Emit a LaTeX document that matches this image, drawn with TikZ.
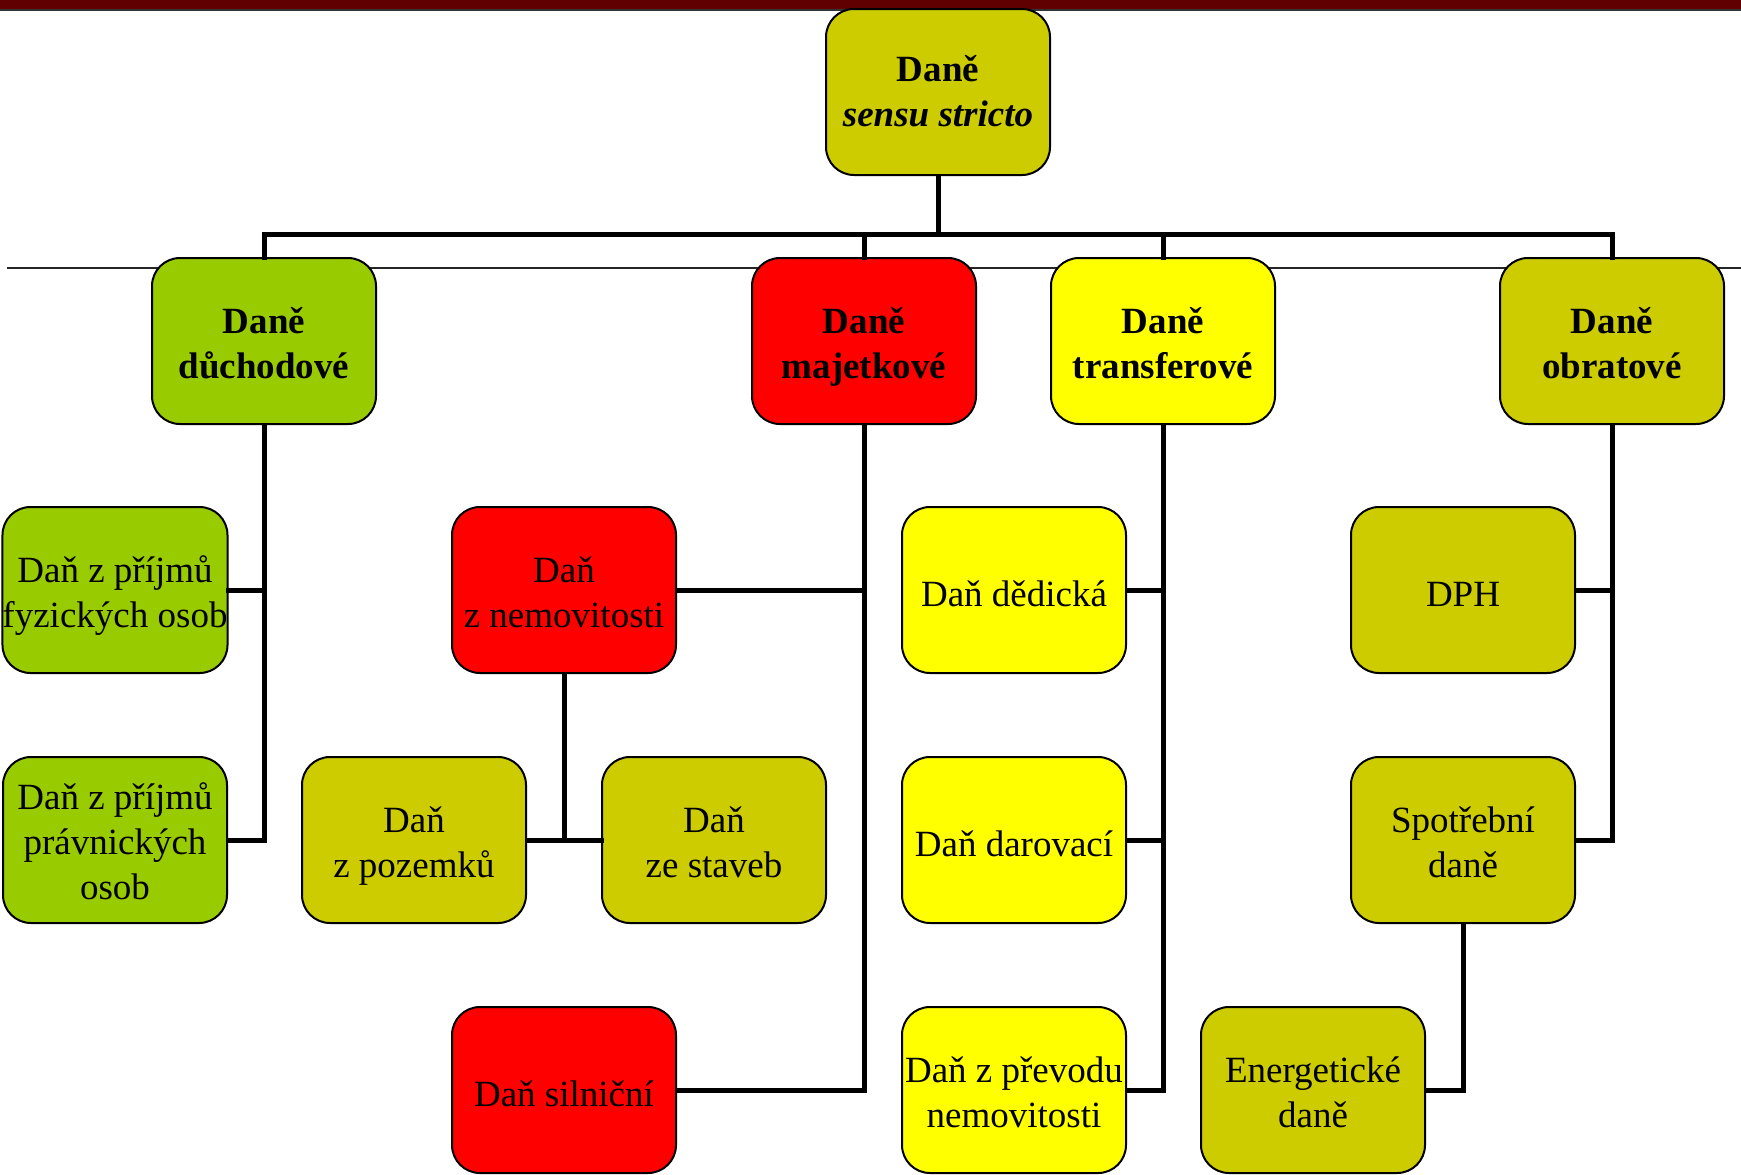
\documentclass[tikz,border=0pt]{standalone}
\usepackage{fontspec}
\setmainfont{Liberation Serif}
\usepackage{tikz}

\definecolor{dzelena}{HTML}{99CC00}
\definecolor{dcervena}{HTML}{FF0000}
\definecolor{dzluta}{HTML}{FFFF00}
\definecolor{dolivova}{HTML}{CCCC00}
\definecolor{dbordo}{HTML}{600000}

\begin{document}
\begin{tikzpicture}[x=0.5pt,y=-0.5pt,
    box/.style={draw=black,line width=1pt,rounded corners=14pt,minimum width=112pt,
      minimum height=83pt,inner sep=0pt,align=center,
      font=\fontsize{18.5}{22.5}\selectfont,text height=19.25pt,text depth=3.25pt},
    dva/.style={text height=40.65pt},
    tri/.style={text height=63.15pt},
    conn/.style={line width=2.5pt,line cap=rect}]
    \useasboundingbox (0,0) rectangle (1741,1174);
    \fill[dbordo] (0,0) rectangle (1741,9);
    \draw[black!80,line width=1pt] (0,10) -- (1741,10);
    \coordinate (lineL) at (7,268);
    \coordinate (lineR) at (1741,268);
    \draw[black!85,line width=1pt] (lineL) -- (lineR);
    \coordinate (bus) at (938,234);

    \node[box,text height=38.15pt,fill=dolivova] (root) at (938,92) {\bfseries Daně\\\bfseries\itshape sensu stricto};
    \node[box,dva,fill=dzelena]  (duch)  at (264,341)  {\bfseries Daně\\\bfseries důchodové};
    \node[box,dva,fill=dcervena] (maj)   at (864,341)  {\bfseries Daně\\\bfseries majetkové};
    \node[box,dva,fill=dzluta]   (trans) at (1163,341) {\bfseries Daně\\\bfseries transferové};
    \node[box,dva,fill=dolivova] (obr)   at (1612,341) {\bfseries Daně\\\bfseries obratové};

    \node[box,dva,fill=dzelena] (fyz)  at (115,590) {Daň z příjmů\\fyzických osob};
    \node[box,tri,fill=dzelena] (prav) at (115,840) {Daň z příjmů\\právnických\\osob};

    \node[box,dva,fill=dcervena] (nemov) at (564,590)  {Daň\\z nemovitosti};
    \node[box,dva,fill=dolivova] (pozem) at (414,840)  {Daň\\z pozemků};
    \node[box,dva,fill=dolivova] (stav)  at (714,840)  {Daň\\ze staveb};
    \node[box,fill=dcervena] (siln)  at (564,1090) {Daň silniční};

    \node[box,fill=dzluta] (dedic) at (1014,590)  {Daň dědická};
    \node[box,fill=dzluta] (darov) at (1014,840)  {Daň darovací};
    \node[box,dva,fill=dzluta] (prev)  at (1014,1090) {Daň z převodu\\nemovitosti};

    \node[box,fill=dolivova] (dph)   at (1463,590)  {DPH};
    \node[box,dva,fill=dolivova] (spotr) at (1463,840)  {Spotřební\\daně};
    \node[box,dva,fill=dolivova] (energ) at (1313,1090) {Energetické\\daně};

    \draw[conn] (root.south) -- (bus);
    \draw[conn] (duch.north) -- (duch.north |- bus) -- (obr.north |- bus) -- (obr.north);
    \foreach \n in {maj,trans}
      \draw[conn] (\n.north) -- (\n.north |- bus);

    \draw[conn] (duch.south) -- (duch.south |- prav.east) -- (prav.east);
    \draw[conn] (duch.south |- fyz.east) -- (fyz.east);

    \draw[conn] (maj.south) -- (maj.south |- siln.east) -- (siln.east);
    \draw[conn] (maj.south |- nemov.east) -- (nemov.east);
    \draw[conn] (nemov.south) -- (nemov.south |- pozem.east);
    \draw[conn] (pozem.east) -- (stav.west);

    \draw[conn] (trans.south) -- (trans.south |- prev.east) -- (prev.east);
    \foreach \n in {dedic,darov}
      \draw[conn] (trans.south |- \n.east) -- (\n.east);

    \draw[conn] (obr.south) -- (obr.south |- spotr.east) -- (spotr.east);
    \draw[conn] (obr.south |- dph.east) -- (dph.east);
    \draw[conn] (spotr.south) -- (spotr.south |- energ.east) -- (energ.east);
\end{tikzpicture}
\end{document}
